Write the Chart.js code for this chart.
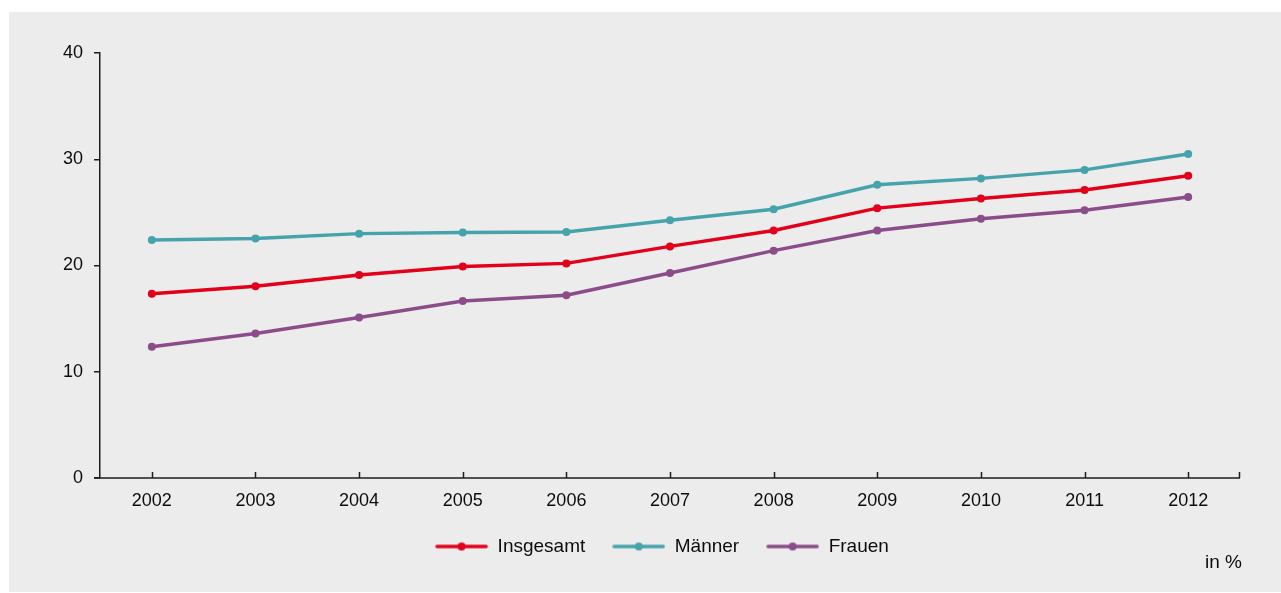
<!DOCTYPE html>
<html><head><meta charset="utf-8">
<script src="https://cdn.jsdelivr.net/npm/chart.js@4.4.1/dist/chart.umd.min.js"></script>
<style>
html,body{margin:0;padding:0;background:#ffffff;}
#panel{position:absolute;left:9px;top:12px;width:1272px;height:580px;background:#ebeceb;}
canvas{display:block;}
</style></head><body>
<div id="panel"><canvas id="c" width="1272" height="580"></canvas></div>
<script>
// ---- data ----
const years = ['2002','2003','2004','2005','2006','2007','2008','2009','2010','2011','2012'];
const insgesamt = [17.35, 18.05, 19.1, 19.9, 20.2, 21.8, 23.3, 25.4, 26.3, 27.1, 28.45];
const maenner   = [22.4, 22.55, 23.0, 23.1, 23.15, 24.25, 25.3, 27.6, 28.2, 29.0, 30.5];
const frauen    = [12.35, 13.6, 15.1, 16.65, 17.2, 19.3, 21.4, 23.3, 24.4, 25.2, 26.45];
const yTicks = [0, 10, 20, 30, 40];
const seriesNames = ['Insgesamt', 'Männer', 'Frauen'];
const unitLabel = 'in %';

// ---- style ----
const colors = ['#e3001b', '#46a3ac', '#8b4d8a'];
const FONT = '"Liberation Sans", Arial, Helvetica, sans-serif';
const TEXT = '#0d0d0d';
const AXIS = '#1e1e1e';

function makeSwatch(color) {
  const c = document.createElement('canvas');
  c.width = 53; c.height = 10;
  const g = c.getContext('2d');
  g.strokeStyle = color; g.lineWidth = 3.5; g.lineCap = 'round';
  g.beginPath(); g.moveTo(2, 5); g.lineTo(51, 5); g.stroke();
  g.fillStyle = color;
  g.beginPath(); g.arc(26.5, 5, 4, 0, Math.PI * 2); g.fill();
  return c;
}

const axesPlugin = {
  id: 'customAxes',
  afterLayout(chart) {
    // reference legend sits slightly right of centre
    chart.legend.left += 16;
    chart.legend.right += 16;
  },
  beforeDatasetsDraw(chart) {
    const {ctx, chartArea: a, scales: {x}} = chart;
    ctx.save();
    ctx.strokeStyle = AXIS; ctx.lineWidth = 1.5;
    ctx.beginPath();
    ctx.moveTo(a.left - 6, a.bottom); ctx.lineTo(a.right, a.bottom);
    for (let i = 0; i < years.length; i++) {
      const px = Math.round(x.getPixelForValue(i)) + 0.5;
      ctx.moveTo(px, a.bottom); ctx.lineTo(px, a.bottom - 6);
    }
    ctx.moveTo(a.right - 0.5, a.bottom); ctx.lineTo(a.right - 0.5, a.bottom - 6);
    ctx.stroke();
    ctx.restore();
  },
  afterDraw(chart) {
    const {ctx, chartArea: a} = chart;
    ctx.save();
    ctx.font = '19px ' + FONT;
    ctx.fillStyle = TEXT;
    ctx.textAlign = 'right'; ctx.textBaseline = 'middle';
    ctx.fillText(unitLabel, a.right + 2, a.bottom + 85);
    ctx.restore();
  }
};

const seriesData = [insgesamt, maenner, frauen];
new Chart(document.getElementById('c'), {
  type: 'line',
  data: {
    labels: years,
    datasets: seriesNames.map((name, i) => ({
      label: name,
      data: seriesData[i],
      borderColor: colors[i],
      backgroundColor: colors[i],
      pointBackgroundColor: colors[i],
      pointBorderWidth: 0,
      pointRadius: 4,
      borderWidth: 3.5,
      tension: 0,
      fill: false
    }))
  },
  options: {
    responsive: false,
    animation: false,
    events: [],
    layout: {padding: {top: 41, left: 43, right: 41, bottom: 26}},
    scales: {
      x: {
        type: 'category',
        offset: true,
        grid: {display: false},
        border: {display: false},
        ticks: {padding: 4.5, color: TEXT, font: {family: FONT, size: 18}, maxRotation: 0},
        afterFit(scale) { scale.height = 32; }
      },
      y: {
        min: 0, max: 40,
        afterBuildTicks(scale) { scale.ticks = yTicks.map(v => ({value: v})); },
        grid: {display: true, drawOnChartArea: false, drawTicks: true, tickLength: 6, color: AXIS, lineWidth: 1.5},
        border: {display: true, color: AXIS, width: 1.5},
        ticks: {padding: 11, color: TEXT, font: {family: FONT, size: 18}}
      }
    },
    plugins: {
      tooltip: {enabled: false},
      legend: {
        position: 'bottom',
        labels: {
          usePointStyle: true,
          pointStyleWidth: 53,
          padding: 27,
          color: TEXT,
          font: {family: FONT, size: 19},
          generateLabels(chart) {
            return chart.data.datasets.map((ds, i) => ({
              text: ds.label,
              pointStyle: makeSwatch(ds.borderColor),
              fillStyle: ds.borderColor,
              strokeStyle: ds.borderColor,
              lineWidth: 0,
              fontColor: TEXT,
              hidden: false,
              datasetIndex: i
            }));
          }
        }
      }
    }
  },
  plugins: [axesPlugin]
});
</script>
</body></html>
